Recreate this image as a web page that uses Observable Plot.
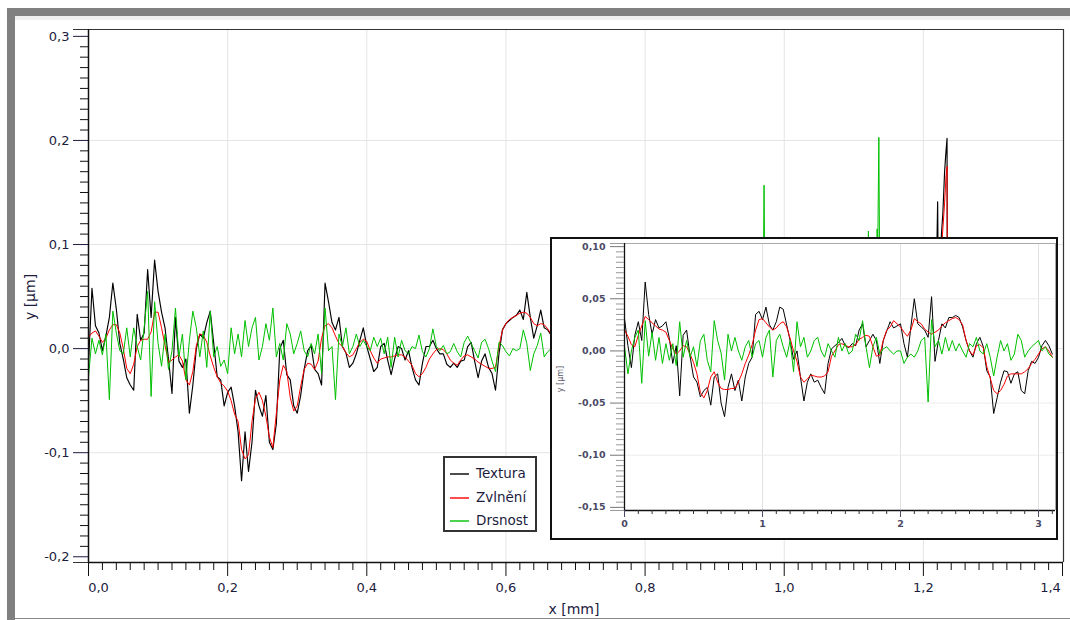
<!DOCTYPE html>
<html>
<head>
<meta charset="utf-8">
<script src="https://cdn.jsdelivr.net/npm/d3@7"></script>
<script src="https://cdn.jsdelivr.net/npm/@observablehq/plot@0.6"></script>
<style>
  html, body { margin: 0; padding: 0; background: #fff; }
  body { width: 1070px; height: 620px; overflow: hidden; position: relative; font-family: "DejaVu Sans", sans-serif; }
  #main { position: absolute; left: 0; top: 0; }
  .bar { position: absolute; background: #808080; }
  #legend { position: absolute; left: 443px; top: 456px; width: 94px; height: 76px; box-sizing: border-box;
            border: 2px solid #333; background: #fff; }
  .li { position: absolute; left: 5px; height: 20px; width: 88px; }
  .li svg { position: absolute; left: 0; top: 0; }
  .li .tx { position: absolute; left: 26px; top: 0; font-size: 13.5px; line-height: 18px; color: #1c1c40; white-space: nowrap; }
  #inset { position: absolute; left: 550px; top: 237px; width: 508px; height: 303px; box-sizing: border-box;
           border: 2px solid #111; background: #fff; }
  #insetPlot { position: absolute; left: 0; top: 0; }
  #insetY { position: absolute; left: 8px; top: 140px; font-size: 8px; color: #5a5a6a; transform: translate(-50%, -50%) rotate(-90deg); white-space: nowrap; }
  #xtitle { position: absolute; left: 574px; top: 601px; transform: translateX(-50%); font-size: 14px; line-height: 16px; color: #1c1c40; white-space: nowrap; }
  #ytitle { position: absolute; left: 30px; top: 297px; transform: translate(-50%, -50%) rotate(-90deg); font-size: 14px; color: #1c1c40; white-space: nowrap; }
</style>
</head>
<body>
<div id="main"></div>
<div class="bar" style="left:7px;top:8px;width:1063px;height:8px;"></div>
<div class="bar" style="left:15px;top:16px;width:1055px;height:4px;background:#efefef;"></div>
<div class="bar" style="left:7px;top:8px;width:8px;height:612px;"></div>
<div class="bar" style="left:15px;top:618px;width:1055px;height:1px;background:#8a8a8a;"></div>
<div id="ytitle">y [µm]</div>
<div id="xtitle">x [mm]</div>
<div id="legend"></div>
<div id="inset"><div id="insetPlot"></div><div id="insetY">y [µm]</div></div>
<script>
// ---------- series names / colours ----------
const seriesNames = ["Textura", "Zvlnění", "Drsnost"];
const seriesColors = ["#000000", "#ff0000", "#00c000"];

// ---------- main chart: profile sampled every 0.005 mm (values in nm = 0.001 µm) ----------
const mainStep = 0.005;
const texturaMain = [-15,58,22,15,-2,12,30,63,38,5,
  -10,-28,-35,-40,33,8,15,76,30,85,
  55,35,20,-10,-43,30,-12,-18,-10,-62,
  -35,0,14,10,25,36,5,-27,-30,-55,
  -42,-37,-55,-80,-127,-80,-118,-90,-40,-55,
  -65,-45,-90,-97,-72,0,8,-25,-30,-55,
  -62,-45,-20,-2,3,-20,-24,-35,63,45,
  25,18,30,2,-4,-18,-14,-5,8,20,
  2,-10,-22,-18,2,5,-11,-25,-10,2,
  0,-11,-2,-18,-30,-35,-14,2,2,8,
  0,-5,-5,-15,-18,-14,-18,-12,-11,2,
  6,-12,-28,-12,-5,-18,-24,-40,-5,18,
  24,27,30,32,37,28,54,30,10,22,
  37,20,18,13];
const zvlneniMain = [11,15,17,12,6,10,18,23,23,15,
  0,-19,-24,-15,2,8,9,9,16,35,
  35,20,3,-13,-11,-8,-6,-12,-30,-35,
  -22,3,14,13,6,-7,-18,-27,-33,-36,
  -41,-50,-63,-70,-97,-106,-102,-70,-48,-42,
  -50,-65,-85,-95,-62,-30,-16,-22,-47,-60,
  -55,-36,-20,-14,-15,-20,-12,10,22,24,
  20,12,5,2,-4,-8,-6,0,6,9,
  7,-2,-9,-14,-10,-9,-8,-8,-7,-6,
  -6,-8,-12,-16,-24,-27,-24,-18,-10,-5,
  -1,0,-1,-5,-11,-14,-16,-11,-7,-6,
  -8,-10,-13,-15,-17,-19,-19,-18,2,18,
  24,28,30,32,34,35,34,30,24,22,
  24,23,19,14];
const drsnostMain = [-27,10,-5,8,-6,14,-49,36,15,-2,
  -5,20,-8,20,2,-11,20,55,-46,45,
  5,-17,14,-20,-2,39,-8,14,-30,8,
  36,20,-8,17,-18,36,-8,2,-17,-11,
  -24,20,-5,14,-8,27,2,20,30,-11,
  2,24,8,39,-8,5,-11,24,14,-5,
  5,17,-2,-8,5,-5,14,-24,39,-2,
  2,-49,14,2,20,-5,2,14,2,8,
  2,-2,11,2,10,-5,11,-18,11,-8,
  8,-2,-5,2,0,13,-3,-8,0,19,
  2,-2,3,-5,-3,5,-3,-8,6,12,
  5,-2,-9,6,9,0,-12,-22,6,3,
  -3,-7,0,-2,0,18,5,-21,-5,3,
  15,-8,-3,0];

// spikes that rise above the inset (x in mm, values in nm)
const texturaSpikeX = [1.218, 1.2205, 1.2215, 1.226, 1.228, 1.2305, 1.232, 1.234, 1.2345];
const texturaSpike  = [40, 141, 60, 110, 130, 170, 185, 202, 40];
const zvlneniSpikeX = [1.224, 1.2275, 1.2305, 1.2325, 1.234, 1.2345];
const zvlneniSpike  = [60, 110, 140, 165, 175, 40];
const drsnostSpikeX = [0.9695, 0.971, 0.9725, 1.1195, 1.121, 1.1225, 1.131, 1.1335, 1.1345, 1.136, 1.1375];
const drsnostSpike  = [30, 157, 30, 40, 113, 40, 40, 115, 100, 203, 40];

// ---------- inset: whole profile sampled every 0.025 mm (nm) ----------
const insetStep = 0.025;
const texturaInset = [31,5,-16,15,28,10,66,35,16,30,
  22,24,28,12,-12,5,-43,15,20,-5,
  -25,-30,-44,-38,-35,-52,-25,-22,-50,-63,
  -35,-22,-38,-28,-48,-25,-12,-6,35,38,
  30,42,25,20,28,42,40,25,10,-8,
  0,-25,-48,-30,-22,-30,-28,-35,-41,-12,
  2,5,8,12,5,3,7,5,20,26,
  4,10,16,10,-12,10,19,28,22,24,
  26,7,-6,23,50,26,23,20,13,52,
  -10,10,26,22,32,32,34,32,23,10,
  0,-6,7,13,4,-19,-25,-60,-45,-30,
  -19,-20,-31,-22,-20,-38,-41,-19,-10,-12,
  -6,5,10,5,-3];
const zvlneniInset = [20,14,6,4,15,24,33,30,27,24,
  21,20,18,10,2,-3,0,5,4,-3,
  -11,-22,-40,-45,-38,-25,-20,-30,-36,-37,
  -37,-36,-36,-30,-22,-12,-4,6,20,30,
  31,27,23,20,22,26,28,23,12,0,
  -10,-25,-30,-27,-23,-24,-25,-25,-24,-20,
  -5,0,6,7,5,4,4,6,11,13,
  15,14,4,-5,-4,10,20,23,29,26,
  23,18,14,20,31,28,26,21,18,16,
  18,20,24,27,29,31,32,30,25,10,
  0,-4,5,6,3,-15,-26,-38,-41,-38,
  -32,-24,-22,-22,-22,-22,-20,-17,-12,-8,
  -3,2,4,0,-6];
const drsnostInset = [4,-22,0,13,20,-31,29,-5,18,-9,
  13,-12,7,-9,7,-14,28,-6,10,-6,
  4,-15,10,16,-9,-20,29,10,-2,-28,
  16,0,13,0,-9,4,10,-6,7,10,
  -6,13,20,-25,10,16,4,-6,10,-20,
  28,4,13,-6,0,10,13,0,-6,7,
  0,-6,13,0,7,-3,0,16,10,29,
  4,-16,4,13,-3,2,4,0,-3,0,
  0,-12,-6,-3,-6,0,10,13,-49,30,
  4,10,-3,13,0,10,0,7,0,-6,
  7,4,13,0,-3,7,-6,-24,-6,10,
  0,7,-9,-3,16,10,-6,0,4,7,
  10,0,4,-3,-6];

// ---------- ticks ----------
const mainXTicks = [0, 0.2, 0.4, 0.6, 0.8, 1.0, 1.2, 1.4];
const mainYTicks = [-0.2, -0.1, 0.0, 0.1, 0.2, 0.3];
const insetXTicks = [0, 1, 2, 3];
const insetYTicks = [-0.15, -0.10, -0.05, 0.00, 0.05, 0.10];

// ---------- build rows ----------
const nm = 1000;
function gridRows(vals, step) { return vals.map((v, i) => ({x: i * step, y: v / nm})); }
function xyRows(xs, vals) { return xs.map((x, i) => ({x, y: vals[i] / nm})); }

const mainRows = [
  gridRows(texturaMain, mainStep).concat(xyRows(texturaSpikeX, texturaSpike)),
  gridRows(zvlneniMain, mainStep).concat(xyRows(zvlneniSpikeX, zvlneniSpike)),
  gridRows(drsnostMain, mainStep).concat(xyRows(drsnostSpikeX, drsnostSpike))
];
const insetRows = [
  gridRows(texturaInset, insetStep),
  gridRows(zvlneniInset, insetStep),
  gridRows(drsnostInset, insetStep)
];

const fmt1 = v => v.toFixed(1).replace(".", ",");
const fmt2 = v => v.toFixed(2).replace(".", ",");
const blank = () => "";

// ---------- main plot ----------
const xDom = [0, 1.4014];
const yDom = [-0.2055, 0.3066];
const xMinor = d3.range(0, 1401, 20).filter(d => d % 200 !== 0).map(d => d / 1000);
const yMinor = d3.range(-200, 301, 10).filter(d => d % 100 !== 0).map(d => d / 1000);
const xInner = mainXTicks.slice(1, -1);
const xFirst = mainXTicks.slice(0, 1);
const xLast = mainXTicks.slice(-1);
const xLabelStyle = {tickSize: 0, tickPadding: 20, tickFormat: fmt1, label: null, fontSize: 13, color: "#1c1c40"};

const main = Plot.plot({
  width: 1070, height: 620,
  marginLeft: 88, marginRight: 7, marginTop: 29, marginBottom: 58,
  x: {domain: xDom, label: null},
  y: {domain: yDom, label: null},
  style: {background: "transparent", fontFamily: "DejaVu Sans, sans-serif", fontSize: "13px", color: "#1c1c40"},
  marks: [
    Plot.gridX({ticks: mainXTicks.filter(d => d > 0 && d < 1.4), stroke: "#e4e4e4", strokeOpacity: 1}),
    Plot.gridY({ticks: [-0.1, 0, 0.1, 0.2], stroke: "#e4e4e4", strokeOpacity: 1}),
    ...mainRows.map((r, k) => Plot.line(r, {x: "x", y: "y", stroke: seriesColors[k], strokeWidth: k === 0 ? 1.15 : 1})),
    Plot.ruleY([yDom[1]], {stroke: "#333", strokeWidth: 1.2}),
    Plot.ruleX([xDom[1]], {stroke: "#333", strokeWidth: 1.2}),
    Plot.ruleX([0], {stroke: "#111", strokeWidth: 1.5}),
    Plot.ruleY([yDom[0]], {stroke: "#111", strokeWidth: 1.5}),
    Plot.axisY({ticks: mainYTicks, tickSize: 15, tickPadding: 4, tickFormat: fmt1, label: null, fontSize: 13, color: "#1c1c40"}),
    Plot.axisY({ticks: yMinor, tickSize: 8, tickFormat: blank, label: null, color: "#111"}),
    Plot.axisY({ticks: yDom, tickSize: 15, tickFormat: blank, label: null, color: "#333"}),
    Plot.axisX({ticks: mainXTicks, tickSize: 14, tickFormat: blank, label: null, color: "#111"}),
    Plot.axisX({ticks: xInner, ...xLabelStyle}),
    Plot.axisX({ticks: xFirst, ...xLabelStyle, dx: 10}),
    Plot.axisX({ticks: xLast, ...xLabelStyle, dx: -12}),
    Plot.axisX({ticks: xMinor, tickSize: 8, tickFormat: blank, label: null, color: "#111"})
  ]
});
document.getElementById("main").appendChild(main);

// ---------- legend ----------
const legend = document.getElementById("legend");
const legendTops = [6, 30, 53];
seriesNames.forEach((name, k) => {
  const li = document.createElement("div");
  li.className = "li";
  li.style.top = legendTops[k] + "px";
  li.innerHTML = `<svg width="20" height="20"><line x1="0" x2="19" y1="10" y2="10" stroke="${seriesColors[k]}" stroke-width="1.4"/></svg><div class="tx">${name}</div>`;
  legend.appendChild(li);
});

// ---------- inset plot ----------
const ixDom = [0, 3.123];
const iyDom = [-0.153, 0.103];
const ixMinor = d3.range(0, 32).filter(d => d % 10 !== 0).map(d => d / 10);
const iyMinor = d3.range(-150, 101, 5).filter(d => d % 50 !== 0).map(d => d / 1000);

const inset = Plot.plot({
  width: 504, height: 299,
  marginLeft: 72, marginRight: 1, marginTop: 4, marginBottom: 28,
  x: {domain: ixDom, label: null},
  y: {domain: iyDom, label: null},
  style: {background: "#fff", fontFamily: "DejaVu Sans, sans-serif", fontSize: "9px", color: "#4a4a66"},
  marks: [
    Plot.gridX({ticks: [1, 2, 3], stroke: "#e2e2e2", strokeOpacity: 1}),
    Plot.gridY({ticks: [-0.10, -0.05, 0, 0.05], stroke: "#ececec", strokeOpacity: 1}),
    ...insetRows.map((r, k) => Plot.line(r, {x: "x", y: "y", stroke: seriesColors[k], strokeWidth: 1})),
    Plot.ruleY([iyDom[1]], {stroke: "#aaa"}),
    Plot.ruleX([ixDom[1]], {stroke: "#aaa"}),
    Plot.ruleX([0], {stroke: "#111", strokeWidth: 1.3}),
    Plot.ruleY([iyDom[0]], {stroke: "#111", strokeWidth: 1.3}),
    Plot.axisY({ticks: insetYTicks, tickSize: 14, tickFormat: blank, label: null, color: "#777"}),
    Plot.axisY({ticks: iyMinor, tickSize: 8, tickFormat: blank, label: null, color: "#999"}),
    Plot.axisY({ticks: iyDom, tickSize: 14, tickFormat: blank, label: null, color: "#999"}),
    Plot.axisY({ticks: insetYTicks, tickSize: 0, tickPadding: 19, tickFormat: fmt2, label: null, fontSize: 9.5, fontWeight: "bold", color: "#4a4a66"}),
    Plot.axisX({ticks: insetXTicks, tickSize: 7, tickPadding: 3, tickFormat: d => String(d), label: null, fontSize: 9.5, fontWeight: "bold", color: "#4a4a66"}),
    Plot.axisX({ticks: ixMinor, tickSize: 4, tickFormat: blank, label: null, color: "#333"})
  ]
});
document.getElementById("insetPlot").appendChild(inset);
</script>
</body>
</html>
